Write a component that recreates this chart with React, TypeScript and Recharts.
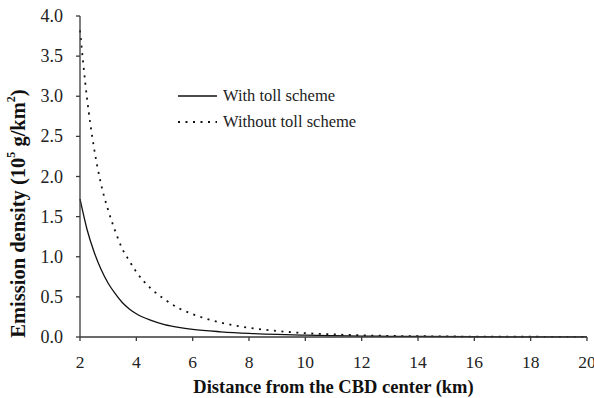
import React from "react";
import {
  LineChart,
  Line,
  XAxis,
  YAxis,
} from "recharts";

// distance from the CBD center (km)
const distances = [2, 2.25, 2.5, 2.75, 3, 3.25, 3.5, 3.75, 4, 4.5, 5, 5.5, 6, 7, 8, 9, 10, 11, 12, 13, 14, 16, 18, 20];
// emission density, 10^5 g/km^2
const withToll = [1.72, 1.34, 1.06, 0.84, 0.67, 0.54, 0.43, 0.35, 0.29, 0.21, 0.155, 0.12, 0.095, 0.065, 0.045, 0.032, 0.023, 0.017, 0.012, 0.009, 0.007, 0.004, 0.002, 0.001];
const withoutToll = [3.82, 2.97, 2.35, 1.9, 1.58, 1.32, 1.1, 0.95, 0.81, 0.61, 0.47, 0.36, 0.285, 0.18, 0.115, 0.075, 0.048, 0.032, 0.021, 0.014, 0.01, 0.005, 0.003, 0.002];

const xTicks = [2, 4, 6, 8, 10, 12, 14, 16, 18, 20];
const yTicks = [0, 0.5, 1, 1.5, 2, 2.5, 3, 3.5, 4];

const data = distances.map((d, i) => ({
  d,
  withToll: withToll[i],
  withoutToll: withoutToll[i],
}));

const FONT = '"Liberation Serif", "Times New Roman", serif';
const AXIS = "#3a3a3a";
const DOTS = "2 5.5";

// y tick labels sit well away from the axis in the original
// eslint-disable-next-line @typescript-eslint/no-explicit-any
const YTick = (props: any) => {
  const { x, y, payload } = props;
  return (
    <text
      x={x - 11}
      y={y}
      textAnchor="end"
      dominantBaseline="central"
      fontFamily={FONT}
      fontSize={18}
      fill="#222"
    >
      {Number(payload.value).toFixed(1)}
    </text>
  );
};

// y-axis title with superscripts
// eslint-disable-next-line @typescript-eslint/no-explicit-any
const YTitle = (props: any) => {
  const { x, y, height } = props.viewBox;
  const cx = x + 18;
  const cy = y + height / 2 + 37;
  return (
    <text
      x={cx}
      y={cy}
      transform={`rotate(-90 ${cx} ${cy})`}
      textAnchor="middle"
      dominantBaseline="central"
      fontFamily={FONT}
      fontWeight="bold"
      fontSize={20.5}
      fill="#111"
    >
      Emission density (10
      <tspan dy={-7} fontSize={12}>5</tspan>
      <tspan dy={7}> g/km</tspan>
      <tspan dy={-7} fontSize={12}>2</tspan>
      <tspan dy={7}>)</tspan>
    </text>
  );
};

// legend drawn like the original: short line sample + label
const LegendBox = () => (
  <svg width={240} height={50} style={{ fontFamily: FONT, position: "absolute", left: 175, top: 85 }}>
    <line x1={3} y1={11} x2={42} y2={11} stroke="#111" strokeWidth={1.3} />
    <text x={48} y={16} fontSize={16.5} fill="#222">With toll scheme</text>
    <line x1={3} y1={37} x2={42} y2={37} stroke="#111" strokeWidth={1.8} strokeDasharray={DOTS} />
    <text x={48} y={42} fontSize={16.5} fill="#222">Without toll scheme</text>
  </svg>
);

export default function App() {
  return (
    <div style={{ width: 594, height: 398, background: "#fff", position: "relative", fontFamily: FONT }}>
      <style>{`body{margin:0} svg{outline:none}`}</style>
      <LineChart
        width={594}
        height={398}
        data={data}
        margin={{ top: 16, right: 7, left: 0, bottom: 0 }}
        style={{ fontFamily: FONT }}
      >
        <XAxis
          dataKey="d"
          type="number"
          domain={[2, 20]}
          ticks={xTicks}
          interval={0}
          height={61}
          stroke={AXIS}
          strokeWidth={1.3}
          tickSize={4}
          tickMargin={15}
          tick={{ fill: "#222", fontSize: 17.5, fontFamily: FONT }}
          label={{
            value: "Distance from the CBD center (km)",
            position: "insideBottom",
            offset: 5,
            fill: "#111",
            fontSize: 18.5,
            fontWeight: "bold",
            fontFamily: FONT,
          }}
        />
        <YAxis
          type="number"
          domain={[0, 4]}
          ticks={yTicks}
          interval={0}
          width={80}
          stroke={AXIS}
          strokeWidth={1.3}
          tickSize={4}
          tick={<YTick />}
          label={<YTitle />}
        />
        <Line
          type="monotone"
          dataKey="withToll"
          name="With toll scheme"
          stroke="#111"
          strokeWidth={1.3}
          dot={false}
          activeDot={false}
          isAnimationActive={false}
        />
        <Line
          type="monotone"
          dataKey="withoutToll"
          name="Without toll scheme"
          stroke="#111"
          strokeWidth={1.8}
          strokeDasharray={DOTS}
          dot={false}
          activeDot={false}
          isAnimationActive={false}
        />
      </LineChart>
      <LegendBox />
    </div>
  );
}
